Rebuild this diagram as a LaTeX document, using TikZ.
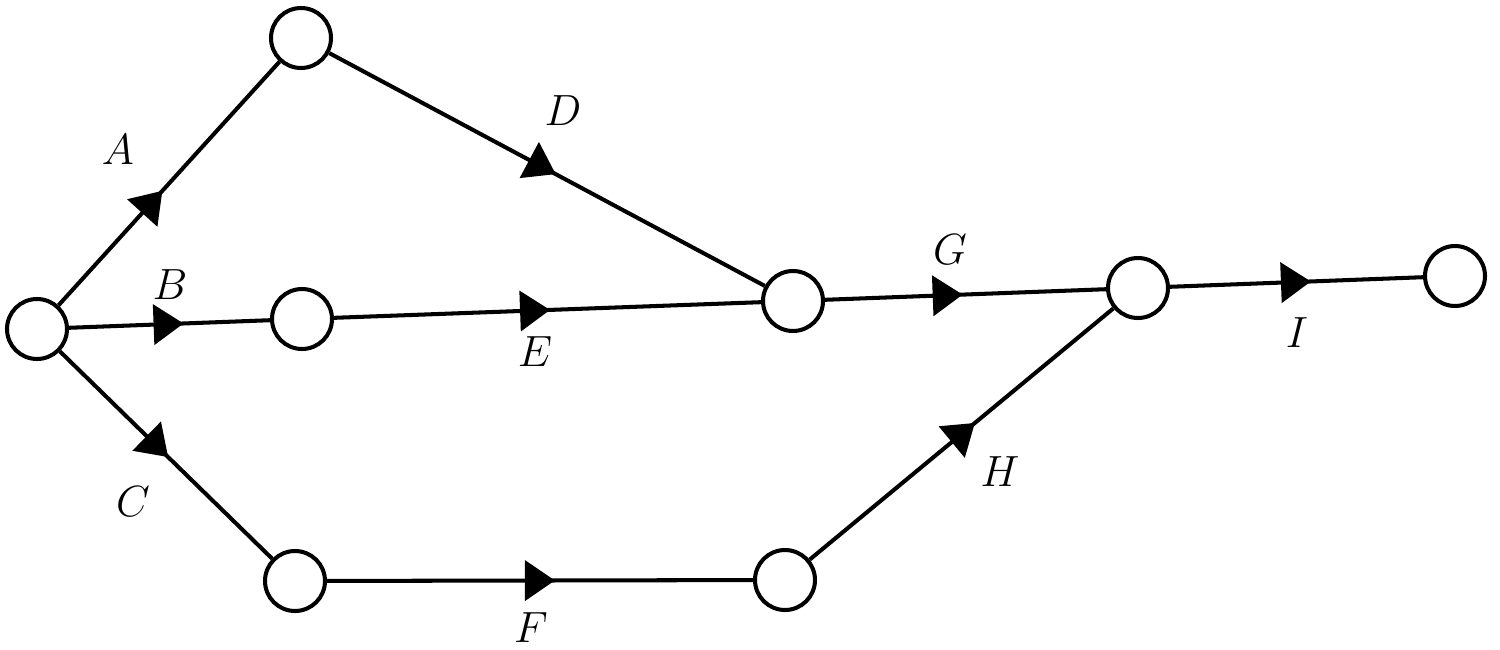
\documentclass[tikz,border=0pt]{standalone}
\usetikzlibrary{arrows.meta,decorations.markings}
\tikzset{
  ev/.style={circle,draw,line width=2.3pt,minimum size=1.2cm,inner sep=0pt,fill=white},
  act/.style={line width=2.3pt,postaction={decorate},decoration={markings,mark=at position #1 with {\arrow{Triangle[length=0.6cm,width=0.8cm]}}}},
  lbl/.style={font=\fontsize{26}{30}\selectfont,inner sep=0pt}
}
\begin{document}
\begin{tikzpicture}[x=0.02cm,y=-0.02cm]
\useasboundingbox (0,0) rectangle (1500,649);
\node[ev] (n1) at (37,329) {};
\node[ev] (n2) at (301,38) {};
\node[ev] (n3) at (302,319) {};
\node[ev] (n4) at (793,301) {};
\node[ev] (n5) at (295,581) {};
\node[ev] (n6) at (785,580) {};
\node[ev] (n7) at (1138,288) {};
\node[ev] (n8) at (1455,276) {};
\draw[act=0.47] (n1) -- (n2);
\draw[act=0.57] (n1) -- (n3);
\draw[act=0.51] (n1) -- (n5);
\draw[act=0.52] (n2) -- (n4);
\draw[act=0.506] (n3) -- (n4);
\draw[act=0.535] (n5) -- (n6);
\draw[act=0.49] (n4) -- (n7);
\draw[act=0.544] (n6) -- (n7);
\draw[act=0.557] (n7) -- (n8);
\node[lbl] (lA) at (118,150) {$A$};
\node[lbl] (lB) at (170,285) {$B$};
\node[lbl] (lC) at (133,502) {$C$};
\node[lbl] (lD) at (563,111) {$D$};
\node[lbl] (lE) at (535,352) {$E$};
\node[lbl] (lF) at (531,628) {$F$};
\node[lbl] (lG) at (950,250) {$G$};
\node[lbl] (lH) at (1000,472) {$H$};
\node[lbl] (lI) at (1297,333) {$I$};
\end{tikzpicture}
\end{document}
